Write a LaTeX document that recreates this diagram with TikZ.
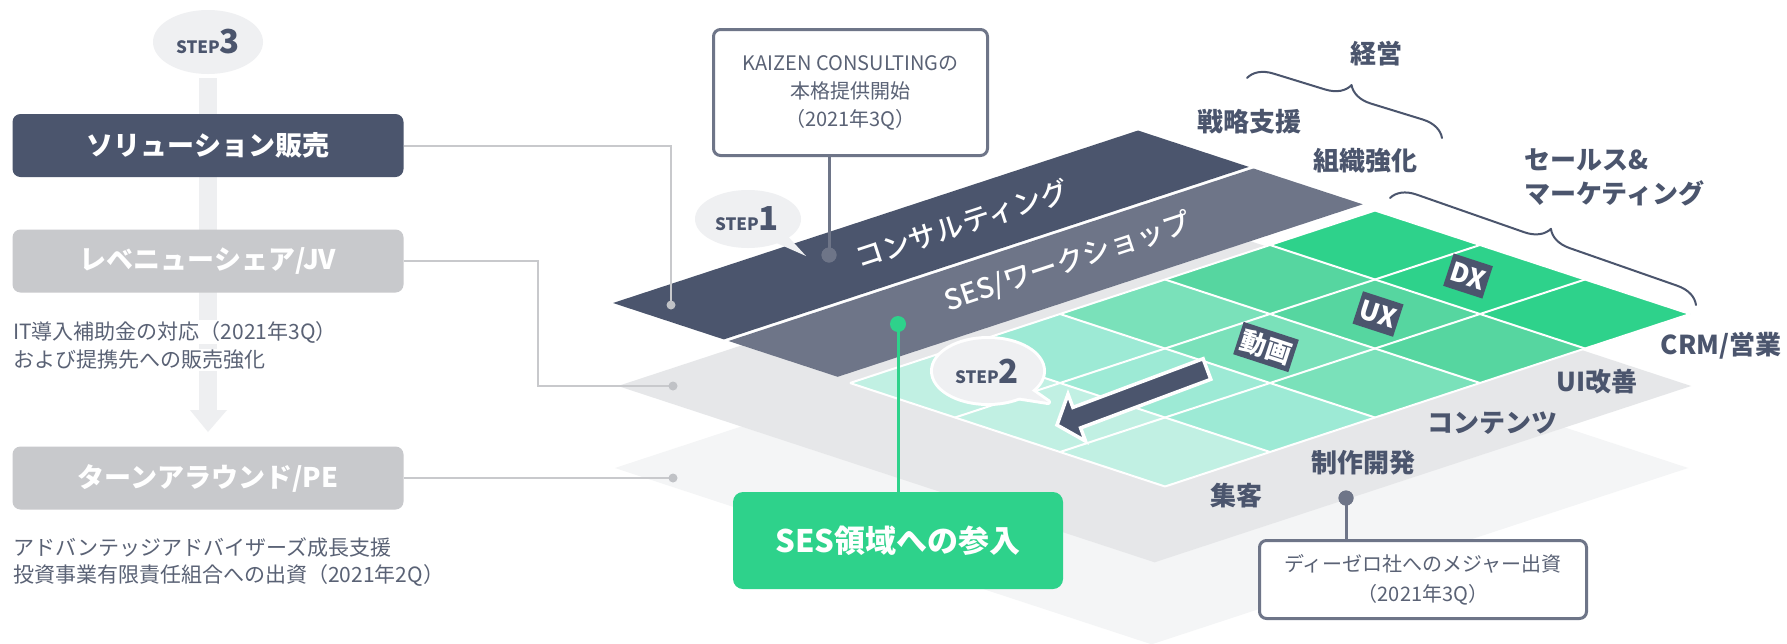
\documentclass[tikz,border=0pt]{standalone}
\usepackage{fontspec}
\setmainfont{Noto Sans CJK JP}
\newfontfamily\jpmed{Noto Sans CJK JP Medium}
\usetikzlibrary{decorations.pathreplacing}
\definecolor{dark}{HTML}{4B556D}
\definecolor{slate}{HTML}{6E7588}
\definecolor{planeA}{HTML}{E6E7E9}
\definecolor{planeB}{HTML}{F4F5F6}
\definecolor{grn}{HTML}{2ED28B}
\definecolor{boxgray}{HTML}{C8C9CC}
\definecolor{linegray}{HTML}{C8C9CC}
\definecolor{dotgray}{HTML}{C0C2C6}
\definecolor{barcol}{HTML}{EEEFF1}
\definecolor{bubble}{HTML}{EFF0F2}
\definecolor{notetext}{HTML}{5A6275}
\definecolor{ga}{HTML}{C1F0E3}
\definecolor{gb}{HTML}{9DEAD5}
\definecolor{gc}{HTML}{7AE1BA}
\definecolor{gd}{HTML}{56D6A0}
\definecolor{ge}{HTML}{2ED28B}
\newcommand{\myfs}[2]{\fontsize{#1}{#2}\selectfont}
\begin{document}
\begin{tikzpicture}[x=1pt,y=-1pt,
  lbox/.style={rounded corners=8pt, minimum width=391pt, minimum height=63pt, inner sep=0pt, text=white, font=\bfseries\myfs{27}{27}},
  note/.style={draw=slate, line width=3pt, fill=white, rounded corners=7pt, text=notetext, align=center, inner sep=0pt},
  lab/.style={text=dark, font=\bfseries\myfs{26}{26}, inner sep=0pt},
  tagbox/.style={fill=dark, text=white, font=\bfseries\myfs{26}{26}, rotate=-18, inner xsep=3pt, inner ysep=0pt, minimum height=34pt},
  sidetxt/.style={fill=white, text=notetext, font=\myfs{21}{21}, inner sep=1pt, anchor=west},
  gdot/.style={circle, inner sep=0pt, minimum size=9pt, fill=dotgray},
  cdot/.style={circle, inner sep=0pt, minimum size=15pt, fill=slate},
  conn/.style={linegray, line width=2pt},
  steptxt/.style={text=dark, font=\bfseries, inner sep=0pt},
  bandtxt/.style={text=white, font=\jpmed\myfs{28}{28}, inner sep=0pt, rotate=18.2},
  bracestyle/.style={dark, line width=2pt, line cap=round, line join=round, decorate, decoration={brace, amplitude=24pt}}
]
\useasboundingbox (0,0) rectangle (1787,643);
\fill[white] (0,0) rectangle (1787,643);

% ---------- planes ----------
\fill[planeB] (615,468) -- (1151.6,644.3) -- (1688.1,468) -- (1151.6,291.7) -- cycle;
\fill[planeA] (618,386) -- (1154.6,562.3) -- (1691.1,386) -- (1154.6,209.7) -- cycle;

% ---------- green grid ----------
\foreach \j/\c in {0/ga,1/gb,2/gc,3/gd,4/ge}
  \fill[\c] (850+105*\j,383-34.5*\j) -- ++(315,103.5) -- ++(105,-34.5) -- ++(-315,-103.5) -- cycle;
\foreach \i in {0,...,3}
  \draw[white, line width=2pt] (850+105*\i,383+34.5*\i) -- ++(525,-172.5);
\foreach \j in {0,...,5}
  \draw[white, line width=2pt] (850+105*\j,383-34.5*\j) -- ++(315,103.5);

% ---------- bands ----------
\fill[slate] (728.5,341) -- (837.7,376.8) -- (1362.7,204.3) -- (1253.5,168.5) -- cycle;
\fill[dark] (613,303) -- (723.8,339.4) -- (1248.8,166.9) -- (1138,130.5) -- cycle;
\node[bandtxt] (consult) at (962,224) {コンサルティング};
\node[bandtxt] (sesband) at (1068,262) {SES/ワークショップ};

% ---------- left column ----------
\fill[barcol] (199,78) rectangle (217,410);
\fill[barcol] (190,410) -- (227,410) -- (208,432) -- cycle;
\fill[bubble] (208,42) ellipse [x radius=55pt, y radius=32pt];
\node[steptxt] (s3) at (208,42) {\myfs{17}{17}STEP\myfs{33}{33}3};

\node[lbox, fill=dark] (box1) at (208,145.5) {ソリューション販売};
\node[lbox, fill=boxgray] (box2) at (208,261) {レベニューシェア/JV};
\node[lbox, fill=boxgray] (box3) at (208,478) {ターンアラウンド/PE};

\node[sidetxt] (t1a) at (12,332) {IT導入補助金の対応（2021年3Q）};
\node[sidetxt] (t1b) at (12,360) {および提携先への販売強化};
\node[sidetxt] (t3a) at (12,547) {アドバンテッジアドバイザーズ成長支援};
\node[sidetxt] (t3b) at (12,575) {投資事業有限責任組合への出資（2021年2Q）};

% connectors from left boxes
\coordinate (k2) at (538,386);
\draw[conn] (box1.east) -| (671,305);
\draw[conn] (box2.east) -- (box2.east -| k2) -- (k2) -- (673,386);
\draw[conn] (box3.east) -- (673,478);
\node[gdot] (d1) at (671,305) {};
\node[gdot] (d2) at (673,386) {};
\node[gdot] (d3) at (673,478) {};

% ---------- KAIZEN note ----------
\node[note, minimum width=274pt, minimum height=126pt, font=\myfs{20}{28}] (kbox) at (850.5,92.5)
  {KAIZEN CONSULTINGの\\本格提供開始\\（2021年3Q）};
\node[cdot] (kdot) at (829,255) {};
\draw[slate, line width=3pt] (kbox.south -| kdot) -- (kdot.center);
\node[cdot] at (kdot) {};

% ---------- STEP1 bubble ----------
\fill[bubble] (748,219) ellipse [x radius=53pt, y radius=29pt];
\fill[bubble] (784.9,233.1) -- (806,256) -- (770.5,240.3) -- cycle;
\node[steptxt] (s1) at (747,219) {\myfs{17}{17}STEP\myfs{33}{33}1};

% ---------- green SES connector ----------
\node[rounded corners=10pt, fill=grn, minimum width=330pt, minimum height=97pt, inner sep=0pt, text=white, font=\bfseries\myfs{31}{31}] (gbox) at (898,540.5) {SES領域への参入};
\node[circle, fill=grn, minimum size=16pt, inner sep=0pt] (gdotn) at (898,324) {};
\draw[grn, line width=3pt] (gdotn.center) -- (gbox.north);

% ---------- arrow ----------
\draw[white, line width=3.5pt, line join=miter, fill=dark]
  (1057,425) -- (1068,394.2) -- (1072.9,407.4) -- (1203.1,358.7) -- (1210.8,379.3) -- (1080.6,427.9) -- (1085.5,441.1) -- cycle;

% ---------- STEP2 bubble ----------
\draw[white, line width=6pt] (988,371) ellipse [x radius=55pt, y radius=32pt];
\draw[white, line width=6pt, line join=round] (1026,386.6) -- (1048,402) -- (1007.7,395.7) -- cycle;
\fill[bubble] (988,371) ellipse [x radius=55pt, y radius=32pt];
\fill[bubble] (1026,386.6) -- (1048,402) -- (1007.7,395.7) -- cycle;
\node[steptxt] (s2) at (987,371) {\myfs{17}{17}STEP\myfs{33}{33}2};

% ---------- tags ----------
\node[tagbox] (tdx) at (1468,276) {DX};
\node[tagbox] (tux) at (1378,314) {UX};
\node[tagbox] (tdoga) at (1266,347) {動画};

% ---------- labels ----------
\node[lab] (l1) at (1376,54) {経営};
\node[lab] (l2) at (1249,122) {戦略支援};
\node[lab] (l3) at (1365,161) {組織強化};
\node[lab, anchor=west] (l4) at (1524,160) {セールス\&};
\node[lab, anchor=west] (l5) at (1524,193) {マーケティング};
\node[lab] (l6) at (1721,346) {CRM/営業};
\node[lab] (l7) at (1597,382) {UI改善};
\node[lab] (l8) at (1492,423) {コンテンツ};
\node[lab] (l9) at (1363,463) {制作開発};
\node[lab] (l10) at (1236,496) {集客};

\coordinate (b1a) at (1247,78);
\coordinate (b1b) at (1442,138);
\coordinate (b2a) at (1390,198);
\coordinate (b2b) at (1696,305);
\draw[bracestyle] (b1a) -- (b1b);
\draw[bracestyle] (b2a) -- (b2b);

% ---------- DeZero note ----------
\node[note, minimum width=327pt, minimum height=78pt, font=\myfs{20}{30}] (dbox) at (1423,579.5)
  {ディーゼロ社へのメジャー出資\\（2021年3Q）};
\node[cdot] (ddot) at (1346,498) {};
\draw[slate, line width=3pt] (dbox.north -| ddot) -- (ddot.center);
\node[cdot] at (ddot) {};
\end{tikzpicture}
\end{document}
